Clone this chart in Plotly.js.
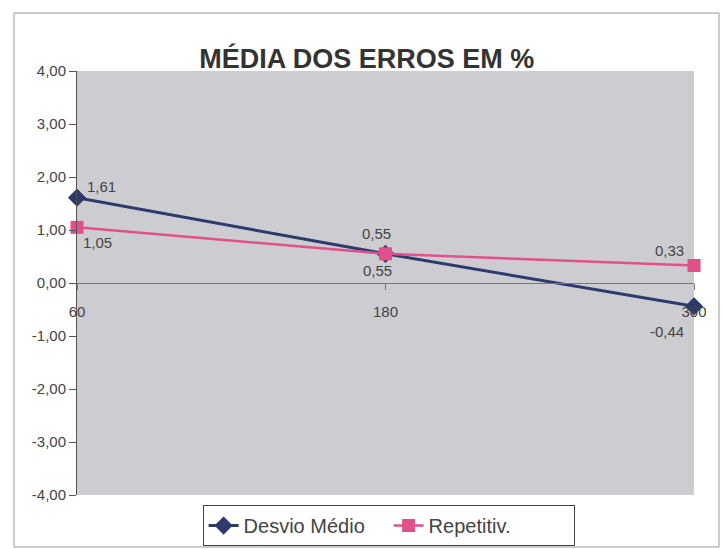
<!DOCTYPE html>
<html>
<head>
<meta charset="utf-8">
<script src="https://cdn.plot.ly/plotly-3.0.1.min.js"></script>
<style>html,body{margin:0;padding:0;background:#fff;}#chart{width:725px;height:549px;}</style>
</head>
<body>
<div id="chart"></div>
<script>
var categories = ['60', '180', '300'];
var desvioMedio = [1.61, 0.55, -0.44];
var repetitiv = [1.05, 0.55, 0.33];
var yTicks = [-4, -3, -2, -1, 0, 1, 2, 3, 4];

function fmt(v) { return v.toFixed(2).replace('.', ','); }
var xIdx = categories.map(function (c, i) { return i; });

var labelFont = {family: 'Liberation Sans, Arial, sans-serif', size: 15, color: '#444'};

var traces = [
  {
    x: xIdx, y: desvioMedio, name: 'Desvio Médio', type: 'scatter', mode: 'lines+markers',
    line: {color: '#2c3a6c', width: 3},
    marker: {symbol: 'diamond', size: 14, color: '#2c3a6c'},
    cliponaxis: false
  },
  {
    x: xIdx, y: repetitiv, name: 'Repetitiv.', type: 'scatter', mode: 'lines+markers',
    line: {color: '#e0508b', width: 2.5},
    marker: {symbol: 'square', size: 13, color: '#e0508b'},
    cliponaxis: false
  }
];

// label offsets in pixels (style only)
var desvioShift = [[24, 11], [-8, -17], [-27, -25]];
var repShift = [[20, -15], [-9, 20], [-25, 15]];
var annotations = [];
xIdx.forEach(function (i) {
  annotations.push({x: i, y: desvioMedio[i], xref: 'x', yref: 'y', text: fmt(desvioMedio[i]),
    showarrow: false, xanchor: 'center', yanchor: 'middle',
    xshift: desvioShift[i][0], yshift: desvioShift[i][1], font: labelFont});
  annotations.push({x: i, y: repetitiv[i], xref: 'x', yref: 'y', text: fmt(repetitiv[i]),
    showarrow: false, xanchor: 'center', yanchor: 'middle',
    xshift: repShift[i][0], yshift: repShift[i][1], font: labelFont});
});

var layout = {
  width: 725, height: 549,
  margin: {l: 77, r: 31, t: 71, b: 54},
  paper_bgcolor: '#ffffff',
  plot_bgcolor: '#cdccd1',
  separators: ',.',
  font: {family: 'Liberation Sans, Arial, sans-serif', color: '#444', size: 15},
  title: {
    text: '<b>MÉDIA DOS ERROS EM %</b>',
    font: {family: 'Liberation Sans, Arial, sans-serif', size: 27, color: '#333'},
    x: 0.506, xref: 'container', xanchor: 'center',
    y: 0.894, yref: 'container', yanchor: 'middle'
  },
  xaxis: {
    type: 'linear', range: [0, 2],
    tickmode: 'array', tickvals: xIdx, ticktext: categories,
    anchor: 'free', position: 0.5,
    showline: true, linecolor: '#777', linewidth: 1,
    ticks: 'outside', ticklen: 6, tickcolor: '#777',
    ticklabelstandoff: 9,
    showgrid: false, zeroline: false,
    tickfont: {size: 15, color: '#444'}
  },
  yaxis: {
    range: [-4, 4],
    tickmode: 'array', tickvals: yTicks, ticktext: yTicks.map(fmt),
    showline: true, linecolor: '#555', linewidth: 1,
    ticks: 'outside', ticklen: 7, tickcolor: '#555',
    showgrid: false, zeroline: false,
    tickfont: {size: 15, color: '#444'}
  },
  showlegend: true,
  legend: {
    orientation: 'h', x: 0.536, xref: 'container', xanchor: 'center',
    y: 0.0801, yref: 'container', yanchor: 'top',
    bordercolor: '#444', borderwidth: 1, bgcolor: '#ffffff',
    entrywidth: 140,
    font: {size: 20, color: '#444'}
  },
  annotations: annotations,
  shapes: [
    {type: 'rect', xref: 'paper', yref: 'paper',
     x0: -0.1021, x1: 1.0405, y0: -0.1226, y1: 1.1368,
     line: {color: '#999', width: 1}, layer: 'below'}
  ]
};

Plotly.newPlot('chart', traces, layout, {displayModeBar: false, staticPlot: true});
</script>
</body>
</html>
